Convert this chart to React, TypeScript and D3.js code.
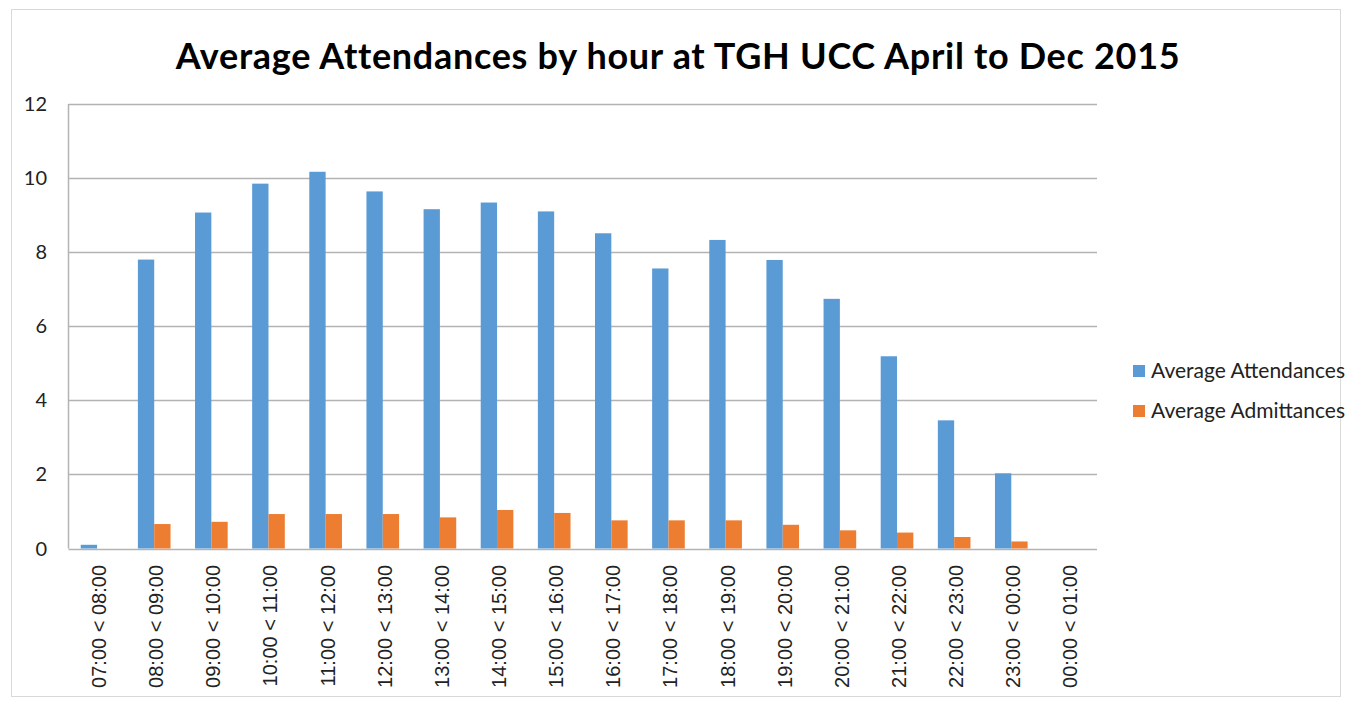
import * as d3 from "d3";

const hours = [
  "07:00 < 08:00", "08:00 < 09:00", "09:00 < 10:00", "10:00 < 11:00",
  "11:00 < 12:00", "12:00 < 13:00", "13:00 < 14:00", "14:00 < 15:00",
  "15:00 < 16:00", "16:00 < 17:00", "17:00 < 18:00", "18:00 < 19:00",
  "19:00 < 20:00", "20:00 < 21:00", "21:00 < 22:00", "22:00 < 23:00",
  "23:00 < 00:00", "00:00 < 01:00",
];
const attendances = [0.1, 7.8, 9.07, 9.85, 10.17, 9.64, 9.16, 9.34, 9.1, 8.51, 7.56, 8.33, 7.79, 6.74, 5.19, 3.46, 2.03, 0];
const admittances = [0, 0.66, 0.72, 0.93, 0.93, 0.93, 0.84, 1.04, 0.96, 0.76, 0.76, 0.76, 0.64, 0.49, 0.43, 0.31, 0.19, 0];
const yTicks = [0, 2, 4, 6, 8, 10, 12];
const seriesNames = ["Average Attendances", "Average Admittances"];
const colors = ["#5B9BD5", "#ED7D31"];

const W = 1351;
const H = 701;
const plot = { left: 68.5, right: 1097, top: 104, bottom: 548.5 };
const font = "Lato, 'Open Sans', sans-serif";

export default function App() {
  const x = d3.scaleBand().domain(hours).range([plot.left, plot.right]).paddingInner(0).paddingOuter(0);
  const y = d3.scaleLinear().domain([0, 12]).range([plot.bottom, plot.top]);
  const barW = x.bandwidth() / 3.5;
  const series = [attendances, admittances];

  return (
    <svg width={W} height={H} style={{ position: "absolute", left: 0, top: 0 }}>
      <rect x={0} y={0} width={W} height={H} fill="#fff" />
      <rect x={11.5} y={9.5} width={1329} height={687} fill="none" stroke="#d9d9d9" />
      <text x={678} y={69} textAnchor="middle" fontFamily={font} fontWeight="bold" fontSize={36} letterSpacing={0.7} fill="#000">
        Average Attendances by hour at TGH UCC April to Dec 2015
      </text>

      {/* gridlines and y labels */}
      {yTicks.map((t) => (
        <g key={t}>
          <line x1={plot.left} x2={plot.right} y1={Math.round(y(t)) + 0.5} y2={Math.round(y(t)) + 0.5} stroke="#b3b3b3" strokeWidth={1.5} />
          <text x={47} y={y(t)} dy="0.35em" textAnchor="end" fontFamily={font} fontSize={20} fill="#222">
            {t}
          </text>
        </g>
      ))}
      <line x1={plot.left} x2={plot.left} y1={plot.top} y2={plot.bottom} stroke="#b3b3b3" strokeWidth={1.5} />

      {/* bars */}
      {series.map((vals, si) =>
        vals.map((v, i) => {
          const cx = (x(hours[i]) as number) + x.bandwidth() / 2;
          const bx = cx - barW + si * barW;
          return v > 0 ? (
            <rect key={si + "-" + i} x={bx} y={y(v)} width={barW} height={y(0) - y(v)} fill={colors[si]} />
          ) : null;
        })
      )}

      {/* x labels */}
      {hours.map((h) => {
        const cx = (x(h) as number) + x.bandwidth() / 2;
        return (
          <text
            key={h}
            transform={`translate(${cx + 9},565) rotate(-90)`}
            textAnchor="end"
            fontFamily="'Liberation Sans', Arial, sans-serif"
            fontSize={20}
            fill="#222"
          >
            {h}
          </text>
        );
      })}

      {/* legend */}
      {seriesNames.map((n, i) => (
        <g key={n} transform={`translate(1133,${371 + i * 40})`}>
          <rect x={0} y={-6} width={12} height={12} fill={colors[i]} />
          <text x={18} y={0} dy="0.35em" fontFamily={font} fontSize={21} fill="#222">
            {n}
          </text>
        </g>
      ))}
    </svg>
  );
}
